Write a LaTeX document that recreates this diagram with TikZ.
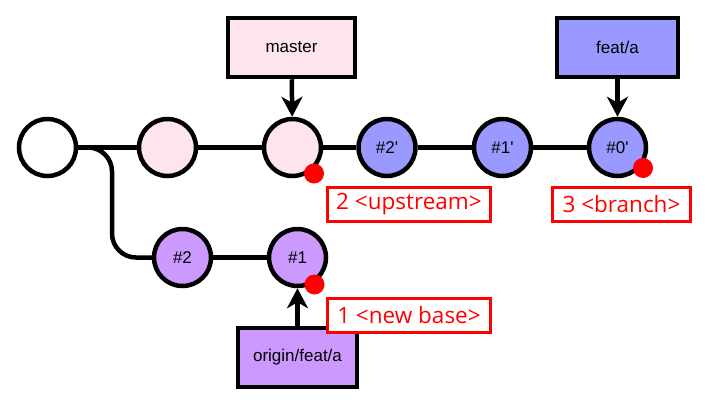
\documentclass[tikz,border=0pt]{standalone}
\usepackage{fontspec}
\setmainfont{Liberation Sans}
\newfontfamily\labelfont{Open Sans}
\usetikzlibrary{arrows.meta}
\definecolor{pinkfill}{HTML}{FDE4EF}
\definecolor{bluefill}{HTML}{9999FF}
\definecolor{purplefill}{HTML}{CC99FF}
\definecolor{redc}{HTML}{FF0000}
\tikzset{
  commit/.style={circle, draw=black, line width=4.5pt, minimum size=57pt, inner sep=0pt, font=\fontsize{17}{19}\selectfont},
  refbox/.style={rectangle, draw=black, line width=4.5pt, minimum height=59pt, inner sep=0pt, font=\fontsize{17}{19}\selectfont},
  conn/.style={line width=4.5pt, draw=black},
  refarrow/.style={line width=4.5pt, draw=black, -{Stealth[length=20pt, width=21pt, inset=6pt]}},
  reddot/.style={circle, fill=redc, minimum size=20pt, inner sep=0pt},
  redlabel/.style={rectangle, draw=redc, fill=white, line width=3pt, minimum height=34pt, inner sep=0pt, text=redc, font=\labelfont\fontsize{22.5}{25}\selectfont}
}
\begin{document}
\begin{tikzpicture}[x=1pt, y=-1pt]
\useasboundingbox (0,0) rectangle (710,405);
% connectors first
\coordinate (k1) at (112,147.5);
\coordinate (k2) at (112,257.5);
\coordinate (c0e) at (78,147.5);
\coordinate (n2w) at (152,257.5);
\draw[conn, rounded corners=24pt] (c0e) -- (k1) -- (k2) -- (n2w);
% commits
\node[commit, fill=white] (c0) at (47.5,147.5) {};
\node[commit, fill=pinkfill] (c1) at (167.5,147.5) {};
\node[commit, fill=pinkfill] (c2) at (292.5,147.5) {};
\node[commit, fill=bluefill] (p2) at (387,147.5) {\#2\textquotesingle};
\node[commit, fill=bluefill] (p1) at (502.5,147.5) {\#1\textquotesingle};
\node[commit, fill=bluefill] (p0) at (617.5,147.5) {\#0\textquotesingle};
\node[commit, fill=purplefill] (n2) at (182.5,257.5) {\#2};
\node[commit, fill=purplefill] (n1) at (297.5,257.5) {\#1};
\draw[conn] (c0) -- (c1);
\draw[conn] (c1) -- (c2);
\draw[conn] (c2) -- (p2);
\draw[conn] (p2) -- (p1);
\draw[conn] (p1) -- (p0);
\draw[conn] (n2) -- (n1);
% ref boxes
\node[refbox, fill=pinkfill, minimum width=127pt] (master) at (291.5,47.5) {master};
\node[refbox, fill=bluefill, minimum width=121pt] (feat) at (617.5,47.5) {feat/a};
\node[refbox, fill=purplefill, minimum width=119pt] (origin) at (297.5,357.5) {origin/feat/a};
\draw[refarrow] (master) -- (c2);
\draw[refarrow] (feat) -- (p0);
\draw[refarrow] (origin) -- (n1);
% red dots
\node[reddot] (d2) at (314,173.5) {};
\node[reddot] (d3) at (643,168) {};
\node[reddot] (d1) at (314.5,284.5) {};
% red labels
\node[redlabel, minimum width=163pt] (l2) at (409,204.5) {2 <upstream>};
\node[redlabel, minimum width=138pt] (l3) at (621.5,204) {3 <branch>};
\node[redlabel, minimum width=163pt] (l1) at (409,315) {1 <new base>};
\end{tikzpicture}
\end{document}
